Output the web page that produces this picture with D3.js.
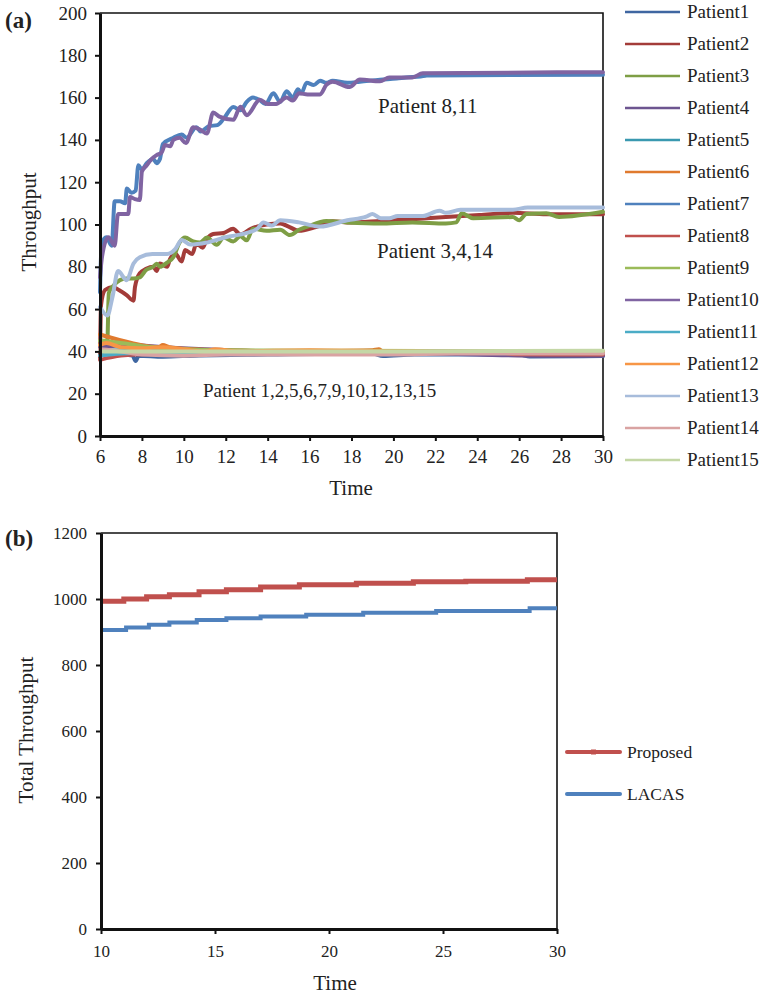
<!DOCTYPE html>
<html>
<head>
<meta charset="utf-8">
<script src="https://cdn.jsdelivr.net/npm/d3@7/dist/d3.min.js"></script>
<style>
body { margin: 0; background: #fff; }
text { font-family: "Liberation Serif", "Times New Roman", serif; fill: #222; }
</style>
</head>
<body>
<script>
var w = 763, h = 994
var serif = "'Liberation Serif', 'Times New Roman', serif"

// ---- panel (a): throughput of each patient over time, [time, value]
var patient1 = [[6,38.5],[7,38.5],[7.55,38],[7.7,35.5],[7.85,38],[9,37.5],[10.5,38],[14,38.5],[19,39],[19.5,37.8],[21,38.5],[26,38.5],[26.5,37.6],[30,37.8]]
var patient2 = [[6,37],[6.05,62],[6.24,69],[6.6,70.5],[6.9,69],[7.27,66.6],[7.6,64],[7.67,70.5],[7.9,77],[8.2,79],[8.54,80],[8.7,78],[8.86,81.6],[9.2,80],[9.34,83.6],[9.58,86.4],[9.9,82.5],[10.06,88],[10.4,86],[10.6,91],[10.9,89],[11.1,93],[11.4,95.5],[11.9,96],[12.35,98],[12.7,95.3],[13.2,98],[13.95,100],[14.6,100.5],[15,99],[15.5,97],[16.2,98.5],[17.1,101.5],[17.8,101],[19.4,101.7],[20.9,102.5],[22.5,103.5],[24.1,104.5],[25.7,105.5],[27.3,104.8],[30,104.8]]
var patient3 = [[6,45],[6.35,45],[6.42,67.6],[6.6,70.6],[6.95,73.7],[7.27,74.5],[7.6,74.5],[7.9,75],[8.2,78.5],[8.54,80],[8.7,81.5],[8.86,80],[9.2,82],[9.5,84.5],[9.8,91.5],[10.06,93.8],[10.45,92],[10.77,91.5],[11.1,93.8],[11.57,90.4],[11.9,93.8],[12.36,92],[12.7,94.5],[13,92.5],[13.3,98],[13.95,97],[14.6,97.5],[15.06,95],[15.5,97.5],[15.9,99],[16.8,101.6],[17.8,101],[19.36,100.5],[20.9,101],[22.5,100.5],[23,101],[23.26,105.3],[23.8,103],[25.7,103.5],[26,102],[26.35,105],[27.3,105.3],[27.9,103.6],[30,106]]
var patient4 = [[6,42],[7.5,43],[9,42],[11,41],[14,40],[20,39.5],[24,38.5],[27,38],[30,38]]
var patient5 = [[6,40],[7,40.5],[10,40],[16,40],[22,39.5],[30,39.5]]
var patient6 = [[6,48],[7.5,44],[8.8,42],[9,43],[9.3,42],[10.5,41],[12,40.5],[16,40],[19,40.5],[19.3,41],[19.5,40],[22,39.5],[30,39.5]]
var patient7 = [[6,68],[6.08,91],[6.3,94],[6.56,90],[6.7,111],[6.95,111],[7.2,110],[7.28,117],[7.5,115],[7.7,116],[7.83,128],[8,126],[8.23,129],[8.54,131],[8.7,129],[8.86,131],[9,138],[9.5,141],[9.9,142.5],[10.13,141],[10.6,146],[10.8,144],[11.2,146.5],[11.6,147],[11.9,150],[12.36,155.6],[12.7,154],[13,158],[13.3,160],[13.6,159],[13.9,157],[14.27,162],[14.6,158],[14.9,163],[15.2,160],[15.45,164],[15.6,162],[15.86,167],[16.2,166],[16.5,168],[16.8,167],[17.1,168],[17.8,167],[18.4,167.5],[19.36,168.5],[20.15,169],[20.6,169.5],[21.3,170],[21.6,170.5],[30,170.8]]
var patient8 = [[6,36],[7,38],[9,39],[12,39.5],[20,39.5],[25,39.5],[26,38.6],[30,38.5]]
var patient9 = [[6,45],[7,44],[8,42.5],[10,41],[12,40.5],[30,40]]
var patient10 = [[6,75],[6.1,85],[6.4,94],[6.7,90],[6.86,105],[7.1,105],[7.35,105],[7.43,113],[7.67,112],[7.9,111.6],[8,125],[8.23,128],[8.47,131],[8.7,132.8],[8.94,134],[9.1,137.6],[9.35,137],[9.5,140],[9.8,141],[10.1,138.5],[10.45,146],[10.75,145],[11.1,143],[11.4,153],[11.7,151],[12.36,149.5],[12.7,155.7],[13,151.7],[13.63,159],[14,157],[14.4,157],[14.9,160],[15.2,158.6],[15.5,162],[15.9,161.5],[16.5,161.5],[16.8,166],[17.1,167.5],[17.9,165],[18.4,168.5],[19.36,167.7],[19.8,169.5],[20.9,169.5],[21.4,171.5],[30,172]]
var patient11 = [[6,38],[7,39],[9,39.5],[11,39.5],[14,40],[20,39.5],[22,40],[30,39.5]]
var patient12 = [[6,43],[6.3,44],[7,42],[8,41.5],[9,42],[10,41],[11,40],[11.5,41],[12.5,40],[16,40.5],[20,40],[30,40]]
var patient13 = [[6,61],[6.35,57],[6.6,66],[6.86,78],[7.27,73.7],[7.6,81.6],[7.9,84.5],[8.5,86],[9.2,86],[9.6,88.5],[9.9,92.7],[10.3,90.5],[11.1,91.5],[12,94],[13,96],[13.5,98],[13.8,101],[14.2,99.5],[14.6,102],[15.5,101],[16.5,99],[17.8,102],[18.7,103.7],[19,105],[19.4,103],[19.8,103],[20.2,104],[21.4,104],[22.2,106.5],[22.5,105.5],[23.2,107],[25.7,107],[26.4,108],[30,108]]
var patient14 = [[6,41],[7,40],[8,38.5],[10,38],[12,38.5],[20,38.5],[23,39],[30,39]]
var patient15 = [[6,40],[10,40],[20,40],[30,40.3]]

var patient_names = ["Patient1","Patient2","Patient3","Patient4","Patient5","Patient6","Patient7","Patient8",
    "Patient9","Patient10","Patient11","Patient12","Patient13","Patient14","Patient15"]
var patient_colors = ["#3F66A1","#A33C39","#7E9E45","#6D5590","#3A99B0","#E07A2E","#4F81BD","#C0504D",
    "#9BBB59","#8064A2","#4BACC6","#F79646","#A7BCDB","#D9A3A2","#C4D7A6"]
var patient_data = [patient1, patient2, patient3, patient4, patient5, patient6, patient7, patient8,
    patient9, patient10, patient11, patient12, patient13, patient14, patient15]

var a_xticks = [6,8,10,12,14,16,18,20,22,24,26,28,30]
var a_yticks = [0,20,40,60,80,100,120,140,160,180,200]
var a_notes = ["Patient 8,11", "Patient 3,4,14", "Patient 1,2,5,6,7,9,10,12,13,15"]

// ---- panel (b): total throughput, [time, value]
var proposed = [[10,993],[11,1000],[12,1007],[13,1013],[14.3,1022],[15.5,1028],[17,1036],[18.7,1043],[21.2,1048],[23.7,1052],[26,1054],[28.7,1058],[30,1058]]
var lacas = [[10,906],[11.1,914],[12.1,922],[13,929],[14.2,936],[15.5,942],[17,947],[19,952],[21.5,958],[24.7,964],[28.8,972],[30,972]]
var b_names = ["Proposed", "LACAS"]
var b_colors = ["#C0504D", "#4F81BD"]
var b_xticks = [10,15,20,25,30]
var b_yticks = [0,200,400,600,800,1000,1200]

var svg = d3.select("body").append("svg")
    .attr("width", w)
    .attr("height", h)

function style_axis(g, size)
{
    g.attr("font-family", serif)
    g.selectAll("text")
        .attr("font-family", serif)
        .attr("font-size", size)
        .attr("fill", "#222")
    g.selectAll(".tick line")
        .attr("stroke", "#111")
        .attr("stroke-width", 2)
    g.select(".domain")
        .attr("stroke", "#111")
        .attr("stroke-width", 3)
}

// ================= panel (a)
var xa = d3.scaleLinear().domain([6, 30]).range([100, 603])
var ya = d3.scaleLinear().domain([0, 200]).range([436, 13])

// thin top/right frame
svg.append("path")
    .attr("d", "M" + xa(6) + "," + ya(200) + "H" + xa(30) + "V" + ya(0))
    .attr("fill", "none")
    .attr("stroke", "#111")
    .attr("stroke-width", 1.6)

var line_a = d3.line()
    .curve(d3.curveMonotoneX)
    .x(function(d) { return xa(d[0]) })
    .y(function(d) { return ya(d[1]) })

svg.append("g").selectAll("path")
    .data(patient_data)
    .enter().append("path")
    .attr("d", line_a)
    .attr("fill", "none")
    .attr("stroke", function(d, i) { return patient_colors[i] })
    .attr("stroke-width", 4)
    .attr("stroke-linejoin", "round")
    .attr("stroke-linecap", "round")

var ax_a = svg.append("g")
    .attr("transform", "translate(0," + ya(0) + ")")
    .call(d3.axisBottom(xa).tickValues(a_xticks).tickSize(5).tickSizeOuter(0).tickPadding(9))
style_axis(ax_a, 19)

var ay_a = svg.append("g")
    .attr("transform", "translate(" + xa(6) + ",0)")
    .call(d3.axisLeft(ya).tickValues(a_yticks).tickSize(5).tickSizeOuter(0).tickPadding(8))
style_axis(ay_a, 19)

svg.append("text")
    .attr("x", 5).attr("y", 28)
    .attr("font-size", 23).attr("font-weight", "bold")
    .text("(a)")

svg.append("text")
    .attr("transform", "translate(36,222) rotate(-90)")
    .attr("text-anchor", "middle")
    .attr("font-size", 21)
    .text("Throughput")

svg.append("text")
    .attr("x", 351).attr("y", 495)
    .attr("text-anchor", "middle")
    .attr("font-size", 21)
    .text("Time")

svg.append("text").attr("x", 378).attr("y", 113).attr("font-size", 21).text(a_notes[0])
svg.append("text").attr("x", 377).attr("y", 258).attr("font-size", 21).text(a_notes[1])
svg.append("text").attr("x", 203).attr("y", 397).attr("font-size", 19).text(a_notes[2])

// legend (a)
var leg_a = svg.append("g").selectAll("g")
    .data(patient_names)
    .enter().append("g")
    .attr("transform", function(d, i) { return "translate(625," + (12 + i * 32) + ")" })
leg_a.append("line")
    .attr("x1", 0).attr("x2", 55)
    .attr("stroke", function(d, i) { return patient_colors[i] })
    .attr("stroke-width", 2.5)
leg_a.append("text")
    .attr("x", 62).attr("y", 6)
    .attr("font-size", 19)
    .text(function(d) { return d })

// ================= panel (b)
var xb = d3.scaleLinear().domain([10, 30]).range([101, 557])
var yb = d3.scaleLinear().domain([0, 1200]).range([929, 533])

svg.append("path")
    .attr("d", "M" + xb(10) + "," + yb(1200) + "H" + xb(30) + "V" + yb(0))
    .attr("fill", "none")
    .attr("stroke", "#111")
    .attr("stroke-width", 1.6)

var line_b = d3.line()
    .curve(d3.curveStepAfter)
    .x(function(d) { return xb(d[0]) })
    .y(function(d) { return yb(d[1]) })

svg.append("g").selectAll("path")
    .data([proposed, lacas])
    .enter().append("path")
    .attr("d", line_b)
    .attr("fill", "none")
    .attr("stroke", function(d, i) { return b_colors[i] })
    .attr("stroke-width", function(d, i) { return i == 0 ? 5 : 4 })

var ax_b = svg.append("g")
    .attr("transform", "translate(0," + yb(0) + ")")
    .call(d3.axisBottom(xb).tickValues(b_xticks).tickFormat(d3.format("d")).tickSize(5).tickSizeOuter(0).tickPadding(11))
style_axis(ax_b, 17)

var ay_b = svg.append("g")
    .attr("transform", "translate(" + xb(10) + ",0)")
    .call(d3.axisLeft(yb).tickValues(b_yticks).tickFormat(d3.format("d")).tickSize(5).tickSizeOuter(0).tickPadding(9))
style_axis(ay_b, 17)

svg.append("text")
    .attr("x", 5).attr("y", 546)
    .attr("font-size", 23).attr("font-weight", "bold")
    .text("(b)")

svg.append("text")
    .attr("transform", "translate(33,730) rotate(-90)")
    .attr("text-anchor", "middle")
    .attr("font-size", 21)
    .text("Total Throughput")

svg.append("text")
    .attr("x", 335).attr("y", 990)
    .attr("text-anchor", "middle")
    .attr("font-size", 21)
    .text("Time")

var leg_b = svg.append("g").selectAll("g")
    .data(b_names)
    .enter().append("g")
    .attr("transform", function(d, i) { return "translate(567," + (752 + i * 42) + ")" })
leg_b.append("line")
    .attr("x1", 0).attr("x2", 53)
    .attr("stroke", function(d, i) { return b_colors[i] })
    .attr("stroke-width", 4)
    .attr("stroke-linecap", "round")
leg_b.filter(function(d, i) { return i == 0 })
    .append("rect")
    .attr("x", 24).attr("y", -2.5)
    .attr("width", 5).attr("height", 5)
    .attr("fill", b_colors[0])
leg_b.append("text")
    .attr("x", 60).attr("y", 6)
    .attr("font-size", 17.5)
    .text(function(d) { return d })
</script>
</body>
</html>
